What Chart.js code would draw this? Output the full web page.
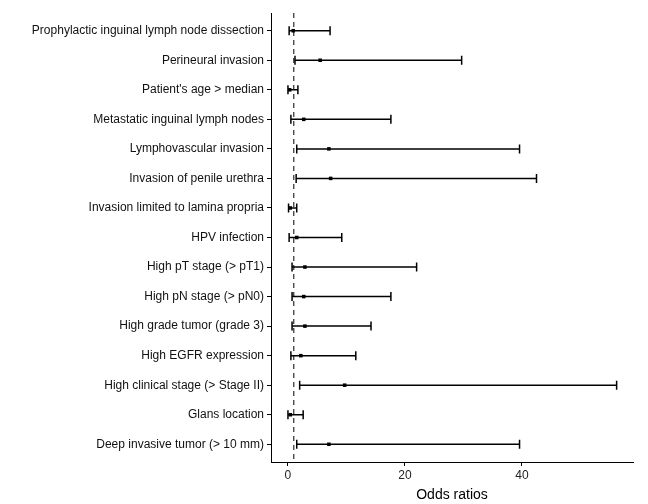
<!DOCTYPE html>
<html><head><meta charset="utf-8">
<script src="https://cdn.jsdelivr.net/npm/chart.js@4/dist/chart.umd.min.js"></script>
<style>body{margin:0;background:#fff}</style>
</head><body>
<canvas id="c" width="648" height="504"></canvas>
<script>
const categories = ["Prophylactic inguinal lymph node dissection","Perineural invasion","Patient's age > median","Metastatic inguinal lymph nodes","Lymphovascular invasion","Invasion of penile urethra","Invasion limited to lamina propria","HPV infection","High pT stage (> pT1)","High pN stage (> pN0)","High grade tumor (grade 3)","High EGFR expression","High clinical stage (> Stage II)","Glans location","Deep invasive tumor (> 10 mm)"];
const oddsRatio = [0.9,5.5,0.3,2.7,7.0,7.3,0.4,1.5,2.9,2.7,2.9,2.2,9.7,0.4,7.0];
const lower = [0.2,1.2,0.0,0.5,1.5,1.4,0.1,0.2,0.7,0.7,0.7,0.5,2.0,0.0,1.5];
const upper = [7.2,29.7,1.7,17.6,39.6,42.5,1.5,9.2,22.0,17.6,14.2,11.6,56.2,2.6,39.6];
const xTicks = [0,20,40];
const refLine = 1;

const errPlugin = {
  id:'err',
  afterDatasetsDraw(chart){
    const {ctx, scales:{x,y}, chartArea} = chart;
    ctx.save();
    ctx.strokeStyle='#000'; ctx.lineWidth=1.5;
    categories.forEach((c,i)=>{
      const py=y.getPixelForValue(i+1), a=x.getPixelForValue(lower[i]), b=x.getPixelForValue(upper[i]);
      ctx.beginPath();
      ctx.moveTo(a,py);ctx.lineTo(b,py);
      ctx.moveTo(a,py-4.5);ctx.lineTo(a,py+4.5);
      ctx.moveTo(b,py-4.5);ctx.lineTo(b,py+4.5);
      ctx.stroke();
    });
    const rx=x.getPixelForValue(refLine);
    ctx.setLineDash([5,4]); ctx.lineWidth=1;
    ctx.beginPath();ctx.moveTo(rx,chartArea.top);ctx.lineTo(rx,chartArea.bottom);ctx.stroke();
    ctx.restore();
  }
};

new Chart(document.getElementById('c'),{
  type:'scatter',
  data:{datasets:[{data:oddsRatio.map((v,i)=>({x:v,y:i+1})),pointStyle:'rect',radius:2.5,backgroundColor:'#000',borderColor:'#000',borderWidth:0}]},
  options:{
    responsive:false,animation:false,
    layout:{padding:{left:0,right:15,top:13,bottom:0}},
    plugins:{legend:{display:false},tooltip:{enabled:false}},
    scales:{
      x:{type:'linear',min:-2.9,max:59,
        afterBuildTicks(s){s.ticks=xTicks.map(v=>({value:v}));},
        afterFit(s){s.height=42;},
        grid:{display:true,drawOnChartArea:false,drawTicks:true,tickLength:4,color:'#000'},
        border:{color:'#000',width:1},
        ticks:{color:'#222',font:{family:'Liberation Sans, Arial',size:12},padding:2},
        title:{display:true,text:'Odds ratios',color:'#000',font:{family:'Liberation Sans, Arial',size:14},padding:{top:0,bottom:0}}
      },
      y:{type:'linear',reverse:true,min:0.4,max:15.6,
        afterBuildTicks(s){s.ticks=categories.map((c,i)=>({value:i+1}));},
        afterFit(s){s.width=271;},
        grid:{display:true,drawOnChartArea:false,drawTicks:true,tickLength:4,color:'#000'},
        border:{color:'#000',width:1},
        ticks:{color:'#111',font:{family:'Liberation Sans, Arial',size:12},padding:3,autoSkip:false,callback:(v)=>categories[v-1]}
      }
    }
  },
  plugins:[errPlugin]
});
</script>
</body></html>
